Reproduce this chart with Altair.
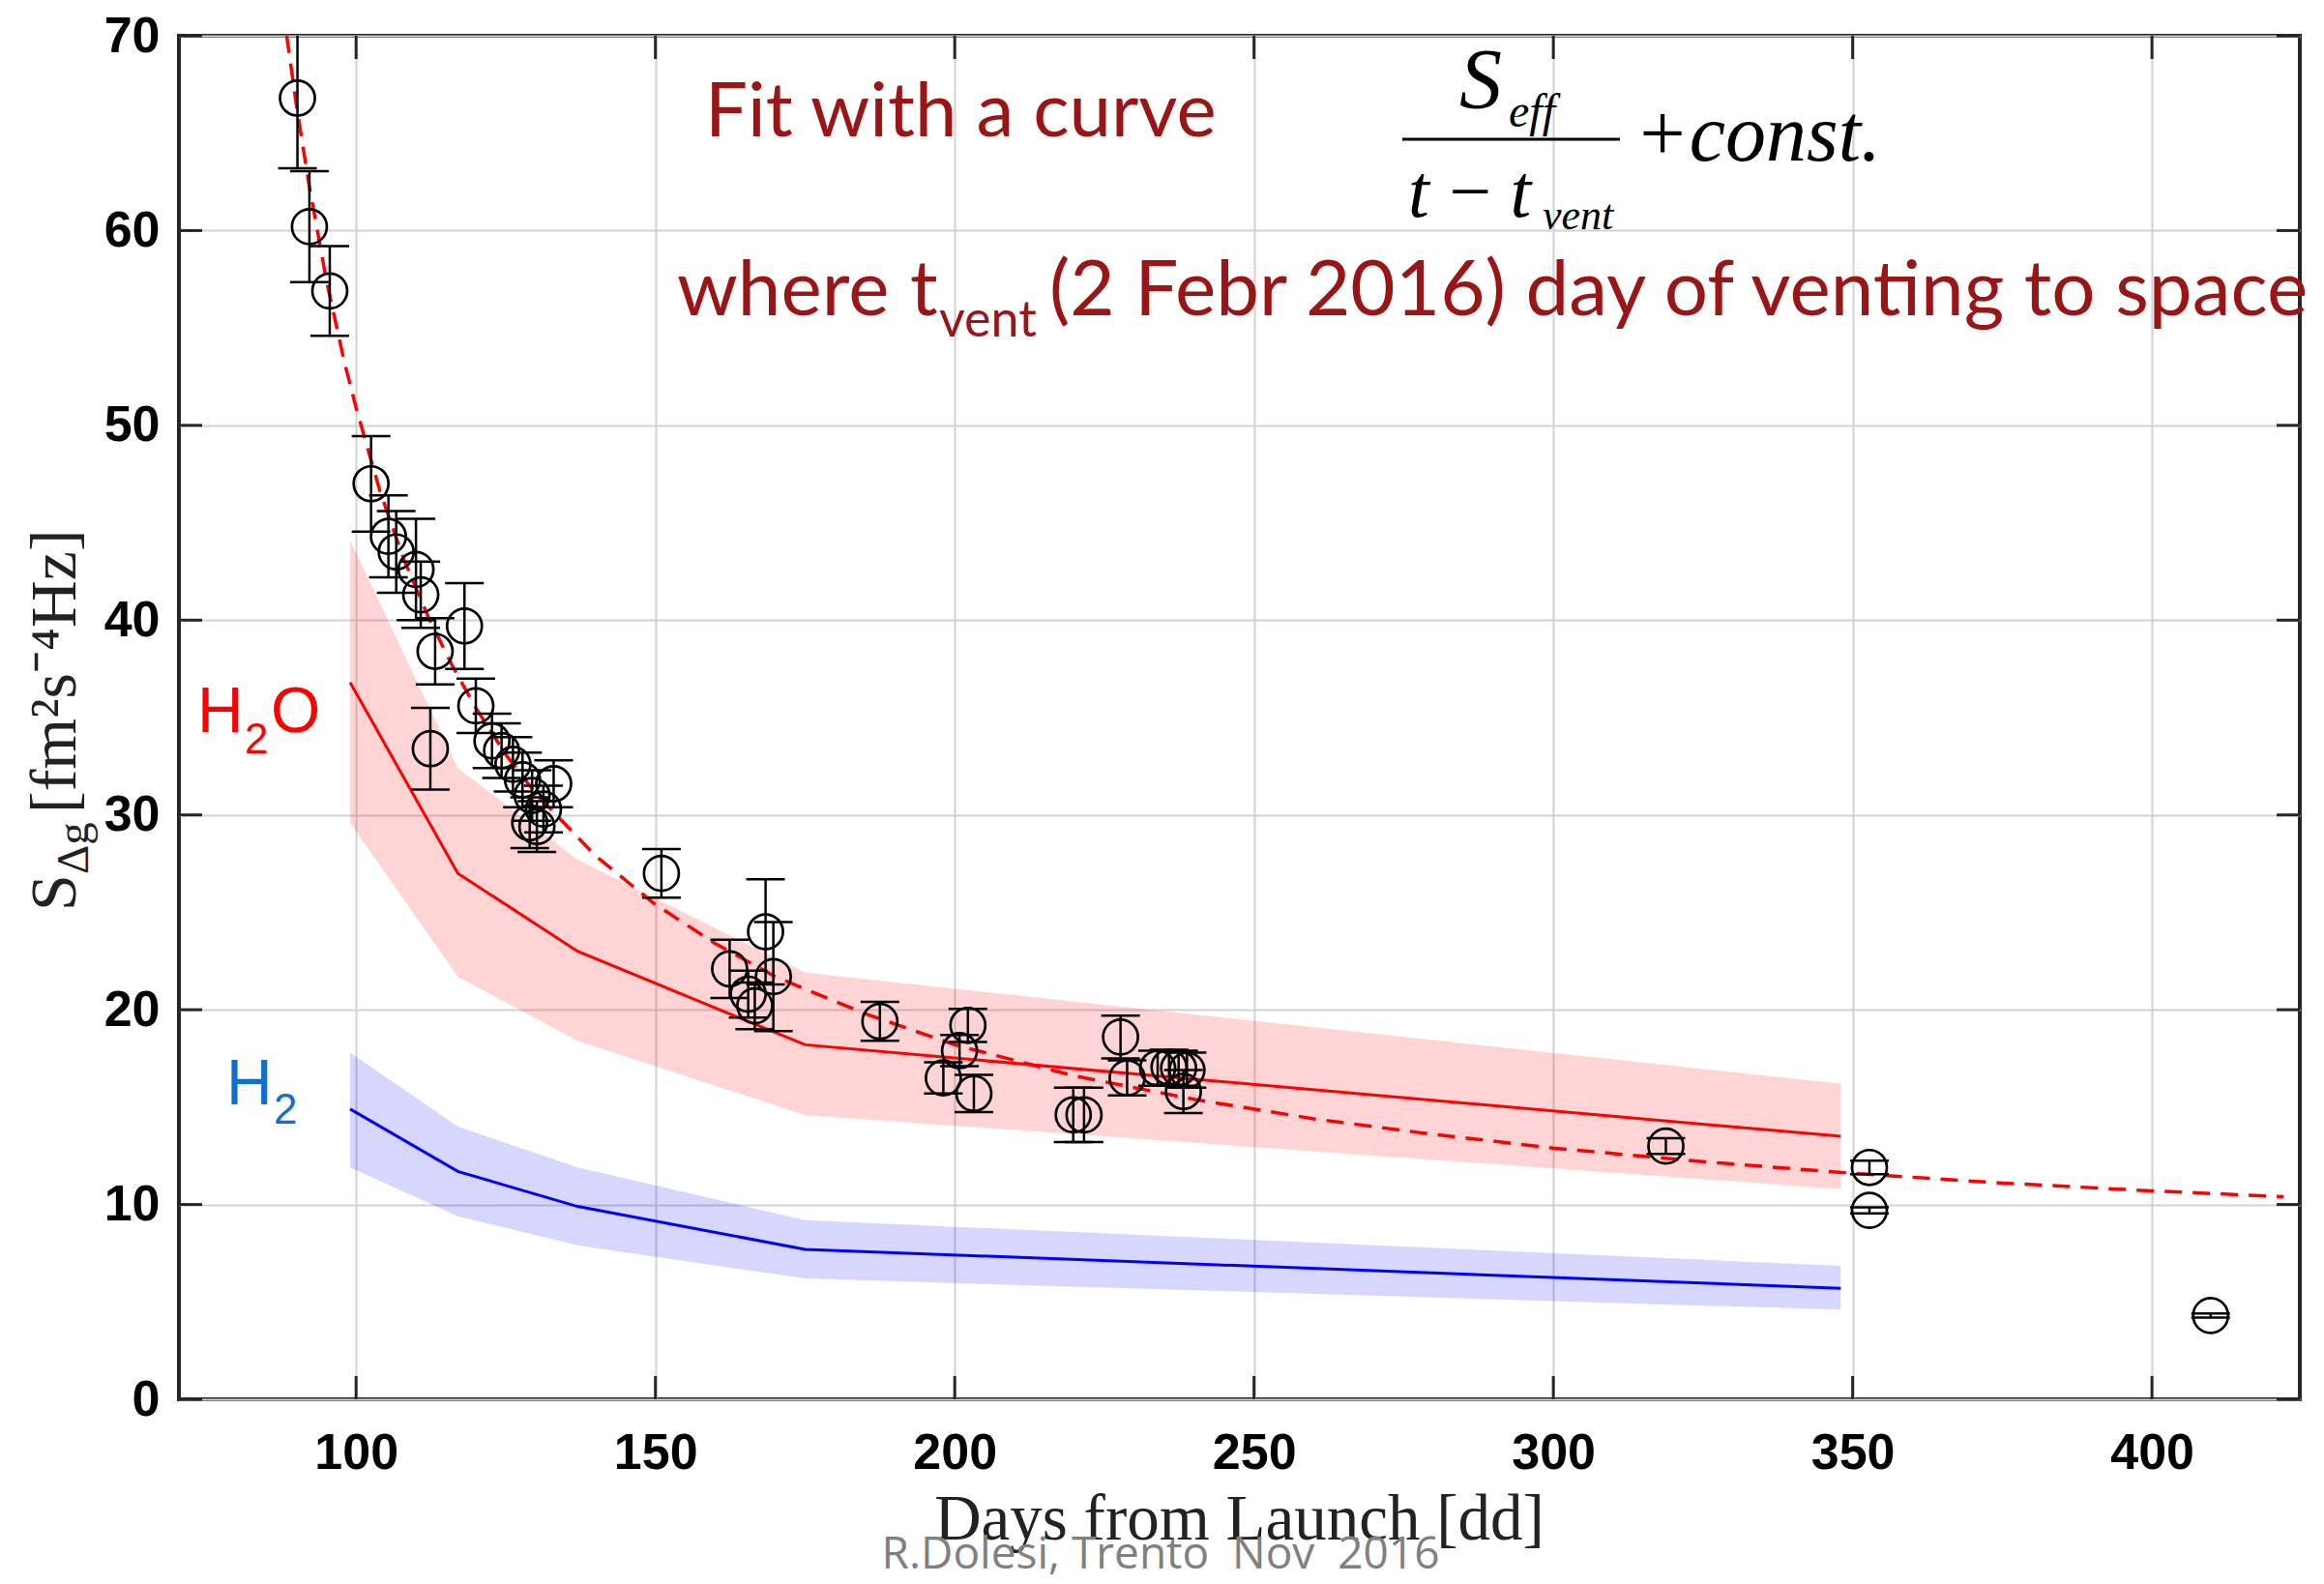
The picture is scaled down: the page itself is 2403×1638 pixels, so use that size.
import altair as alt
import pandas as pd

# ---------------- data ----------------
days = [90.2, 92.2, 95.6, 102.5, 105.4, 106.7, 110.0, 110.8, 113.2, 118.1,
        112.4, 120.0, 122.7, 124.3, 126.2, 127.8, 129.4, 133.0, 129.0, 130.2,
        131.3, 151.0, 162.4, 168.4, 169.7, 165.5, 166.6, 187.5, 202.2, 200.8,
        198.1, 203.2, 219.8, 221.6, 227.7, 228.8, 233.9, 235.8, 237.4, 238.8,
        238.2, 318.8, 352.8, 352.8, 409.8]
s_dg = [66.8, 60.2, 56.9, 47.0, 44.3, 43.5, 42.6, 41.3, 38.4, 39.7,
        33.4, 35.6, 33.8, 33.3, 32.6, 31.8, 31.0, 31.6, 29.6, 29.4,
        30.3, 27.0, 22.1, 24.0, 21.7, 20.8, 20.2, 19.4, 19.2, 17.9,
        16.5, 15.7, 14.6, 14.6, 18.6, 16.5, 17.0, 17.05, 17.0, 16.9,
        15.8, 13.0, 11.9, 9.7, 4.3]
s_err = [3.6, 2.85, 2.3, 2.45, 2.1, 2.1, 2.6, 1.7, 1.7, 2.2,
         2.1, 1.4, 1.4, 1.4, 1.4, 1.4, 1.3, 1.2, 1.3, 1.3,
         1.2, 1.25, 1.5, 2.7, 2.8, 1.2, 1.2, 1.0, 0.85, 0.8,
         0.8, 0.95, 1.4, 1.4, 1.1, 0.9, 0.9, 0.9, 0.9, 0.9,
         1.1, 0.4, 0.35, 0.15, 0.1]

model_days = [99, 117, 137, 175, 348]
h2o_mid = [36.8, 27.0, 23.0, 18.2, 13.5]
h2o_hi = [44.1, 32.4, 27.7, 21.9, 16.2]
h2o_lo = [29.6, 21.7, 18.4, 14.6, 10.8]
h2_mid = [14.9, 11.7, 9.9, 7.7, 5.7]
h2_hi = [17.8, 14.0, 11.9, 9.2, 6.85]
h2_lo = [11.9, 9.4, 7.9, 6.2, 4.6]

fit_days = [88.4, 90, 92, 95, 98, 100, 104, 108, 112, 116, 120, 125, 130, 140,
            150, 160, 170, 185, 200, 220, 240, 260, 280, 300, 325, 350, 375,
            400, 422]
fit_vals = [70.0, 66.5, 62.6, 57.5, 53.3, 50.9, 46.6, 43.1, 40.2, 37.7, 35.5,
            33.1, 31.1, 27.9, 25.4, 23.4, 21.7, 19.8, 18.2, 16.6, 15.4, 14.4,
            13.6, 12.9, 12.2, 11.6, 11.1, 10.7, 10.4]

x_ticks = [100, 150, 200, 250, 300, 350, 400]
y_ticks = [0, 10, 20, 30, 40, 50, 60, 70]

x_title = "Days from Launch [dd]"
y_title_main = "S"
y_title_sub = "Δg"
y_title_rest = "[fm²s⁻⁴Hz]"
credit = "R.Dolesi, Trento\u00a0 Nov\u00a0 2016"
fit_text = "Fit with a curve"
where_a = "where"
where_t = "t"
where_sub = "vent"
where_b = "(2 Febr 2016) day of venting to space"

# ---------------- layout ----------------
W, H = 2193, 1410
PAD_L, PAD_T = 185, 37

pts = pd.DataFrame({"day": days, "s": s_dg,
                    "lo": [a - b for a, b in zip(s_dg, s_err)],
                    "hi": [a + b for a, b in zip(s_dg, s_err)]})
model = pd.DataFrame({"day": model_days, "h2o": h2o_mid, "h2o_hi": h2o_hi,
                      "h2o_lo": h2o_lo, "h2": h2_mid, "h2_hi": h2_hi,
                      "h2_lo": h2_lo})
fit = pd.DataFrame({"day": fit_days, "v": fit_vals})
xt = pd.DataFrame({"v": x_ticks})
yt = pd.DataFrame({"v": y_ticks})
one = pd.DataFrame({"k": [0]})

xscale = alt.Scale(domain=[70.4, 424.7], nice=False, zero=False)
yscale = alt.Scale(domain=[0, 70], nice=False, zero=False)

x_axis = alt.Axis(values=x_ticks, grid=True, gridColor="#d2d2d2", gridWidth=2,
                  ticks=False, domain=False, labelFont="Liberation Sans",
                  labelFontWeight="bold", labelFontSize=52, labelColor="black",
                  labelPadding=30, labelFlush=False, title=None)
y_axis = alt.Axis(values=y_ticks, grid=True, gridColor="#d2d2d2", gridWidth=2,
                  ticks=False, domain=False, labelFont="Liberation Sans",
                  labelFontWeight="bold", labelFontSize=52, labelColor="black",
                  labelPadding=20, labelFlush=False, title=None)


def X(f):
    return alt.X(f, type="quantitative", scale=xscale, axis=x_axis)


def Y(f):
    return alt.Y(f, type="quantitative", scale=yscale, axis=y_axis)


layers = []

# bands
layers.append(alt.Chart(model).mark_area(color="#ff0000", opacity=0.17, clip=True)
              .encode(x=X("day"), y=Y("h2o_lo"), y2="h2o_hi"))
layers.append(alt.Chart(model).mark_area(color="#0000ff", opacity=0.16, clip=True)
              .encode(x=X("day"), y=Y("h2_lo"), y2="h2_hi"))
# model lines
layers.append(alt.Chart(model).mark_line(color="#ff0000", strokeWidth=3, clip=True)
              .encode(x=X("day"), y=Y("h2o")))
layers.append(alt.Chart(model).mark_line(color="#0000ff", strokeWidth=3, clip=True)
              .encode(x=X("day"), y=Y("h2")))
# dashed fit
layers.append(alt.Chart(fit).mark_line(color="#ff0000", strokeWidth=3.5,
                                       strokeDash=[18, 11], clip=True)
              .encode(x=X("day"), y=Y("v")))
# error bars
layers.append(alt.Chart(pts).mark_rule(color="black", strokeWidth=2.5, clip=True)
              .encode(x=X("day"), y=Y("lo"), y2="hi"))
for f in ["lo", "hi"]:
    layers.append(alt.Chart(pts).mark_tick(orient="horizontal", size=40,
                                           thickness=2.5, color="black",
                                           opacity=1, clip=True)
                  .encode(x=X("day"), y=Y(f)))
# circles
layers.append(alt.Chart(pts).mark_point(shape="circle", filled=False, size=1300,
                                        strokeWidth=2.7, color="black",
                                        opacity=1, clip=True)
              .encode(x=X("day"), y=Y("s")))

# inward ticks
tick_style = dict(size=24, thickness=3, color="#262626", opacity=1)
layers.append(alt.Chart(xt).mark_tick(orient="vertical", **tick_style)
              .encode(x=X("v"), y=alt.value(H - 12)))
layers.append(alt.Chart(xt).mark_tick(orient="vertical", **tick_style)
              .encode(x=X("v"), y=alt.value(12)))
layers.append(alt.Chart(yt).mark_tick(orient="horizontal", **tick_style)
              .encode(y=Y("v"), x=alt.value(12)))
layers.append(alt.Chart(yt).mark_tick(orient="horizontal", **tick_style)
              .encode(y=Y("v"), x=alt.value(W - 12)))


def txt(s, x, y, size, font, color, **kw):
    return (alt.Chart(one)
            .mark_text(text=s, font=font, fontSize=size, color=color,
                       align=kw.pop("align", "left"),
                       baseline=kw.pop("baseline", "alphabetic"), **kw)
            .encode(x=alt.value(x), y=alt.value(y)))


red_dark = "#9a1616"
# annotation texts
layers.append(txt(fit_text, 544, 104, 78, "Lato", red_dark))
layers.append(txt(where_a, 515, 289, 80, "Lato", red_dark))
layers.append(txt(where_t, 756, 289, 80, "Lato", red_dark))
layers.append(txt(where_sub, 786, 311, 52, "Lato", red_dark))
layers.append(txt(where_b, 900, 289, 80, "Lato", red_dark))

# formula
layers.append(txt("S", 1324, 74, 88, "Liberation Serif", "black", fontStyle="italic"))
layers.append(txt("eff", 1375, 94, 48, "Liberation Serif", "black", fontStyle="italic"))
layers.append(alt.Chart(one).mark_rule(color="black", strokeWidth=3)
              .encode(x=alt.value(1265), x2=alt.value(1490), y=alt.value(107)))
layers.append(txt("+const.", 1505, 129, 84, "Liberation Serif", "black", fontStyle="italic"))
layers.append(txt("t\u2009−\u2009t", 1271, 187, 78, "Liberation Serif", "black", fontStyle="italic"))
layers.append(txt("vent", 1410, 200, 44, "Liberation Serif", "black", fontStyle="italic"))

# species labels
layers.append(txt("H", 19, 720, 66, "Liberation Sans", "#ff0000"))
layers.append(txt("2", 68, 742, 44, "Liberation Sans", "#ff0000"))
layers.append(txt("O", 95, 720, 66, "Liberation Sans", "#ff0000"))
layers.append(txt("H", 49, 1105, 66, "Liberation Sans", "#0f6fcc"))
layers.append(txt("2", 98, 1125, 44, "Liberation Sans", "#0f6fcc"))

# axis titles
layers.append(txt(x_title, W / 2, 1555, 67, "Liberation Serif", "#222222", align="center"))
layers.append(txt(credit, 1015, 1585, 46, "Open Sans", "#808080", align="center"))
layers.append(txt(y_title_main, -107, 905, 68, "Liberation Serif", "#222222", angle=270))
layers.append(txt(y_title_sub, -94, 867, 47, "Liberation Serif", "#222222", angle=270))
layers.append(txt(y_title_rest, -107, 804, 68, "Liberation Serif", "#222222", angle=270))

chart = (alt.layer(*layers)
         .properties(width=W, height=H,
                     autosize=alt.AutoSizeParams(type="none"),
                     padding={"left": PAD_L, "top": PAD_T, "right": 25, "bottom": 191},
                     background="white")
         .configure_view(stroke="#262626", strokeWidth=4))

chart.save("out.html", embed_options={"renderer": "svg", "actions": False})
